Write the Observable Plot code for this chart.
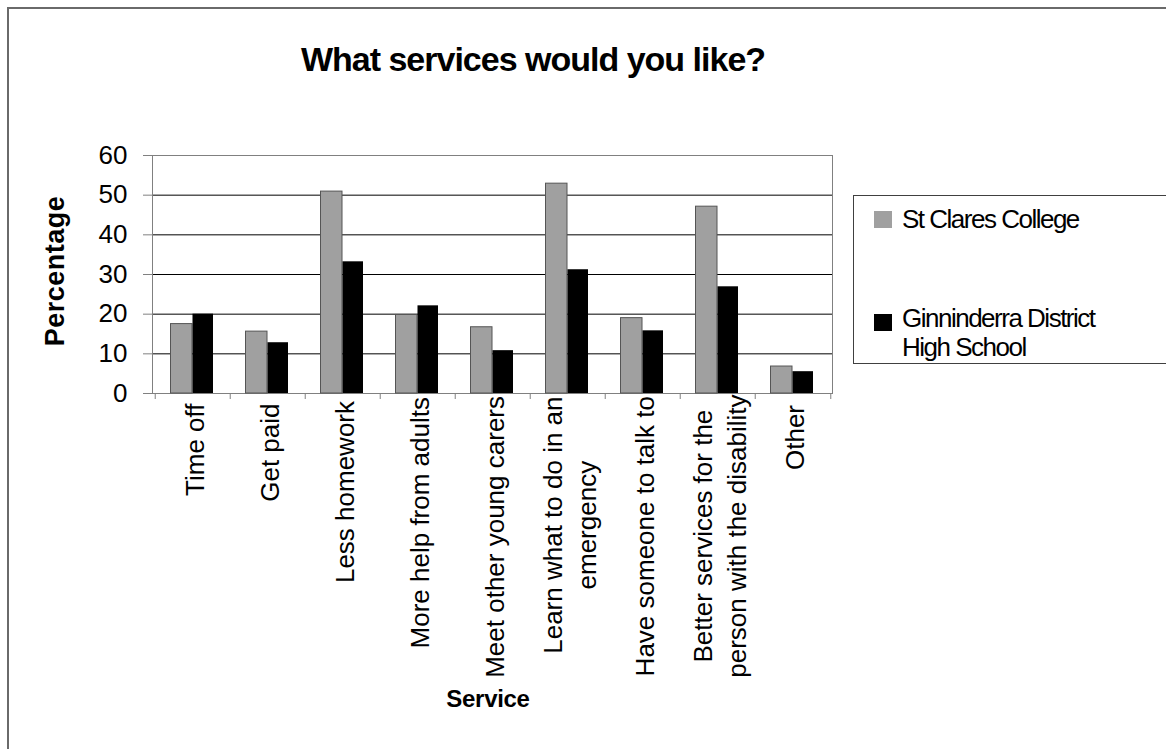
<!DOCTYPE html>
<html>
<head>
<meta charset="utf-8">
<script src="https://cdn.jsdelivr.net/npm/d3@7"></script>
<script src="https://cdn.jsdelivr.net/npm/@observablehq/plot@0.6"></script>
<style>
  body { margin: 0; background: #fff; font-family: "Liberation Sans", Arial, sans-serif; }
  #wrap { position: relative; width: 1166px; height: 749px; overflow: hidden; background: #fff; }
  #border { position: absolute; left: 7px; top: 7px; width: 1300px; height: 900px;
            border-left: 2px solid #6a6a6a; border-top: 2px solid #6a6a6a; }
  #title { position: absolute; left: 0; top: 42px; width: 1066px; text-align: center;
           font-weight: bold; font-size: 34px; line-height: 34px; letter-spacing: -1px; color: #000; }
  #xtitle { position: absolute; left: 388px; top: 687px; width: 200px; text-align: center;
            font-weight: bold; font-size: 24px; line-height: 24px; letter-spacing: -0.3px; }
  #ytitle { position: absolute; left: -95px; top: 256px; width: 300px; height: 30px; line-height: 30px;
            text-align: center; font-weight: bold; font-size: 27px; letter-spacing: 0.5px;
            transform: rotate(-90deg); }
  #legend { position: absolute; left: 853px; top: 195px; width: 340px; height: 169px;
            border: 1px solid #404040; box-sizing: border-box; }
  .lg-sw { position: absolute; width: 18px; height: 17px; }
  .lg-tx { position: absolute; font-size: 26px; line-height: 29px; height: 29px; letter-spacing: -1.5px;
           white-space: nowrap; color: #000; }
</style>
</head>
<body>
<div id="wrap">
  <div id="border"></div>
  <div id="title"></div>
  <div id="ytitle"></div>
  <div id="xtitle"></div>
  <div id="legend"></div>
</div>
<script>
// ---- Data ----
const titleText = "What services would you like?";
const xTitle = "Service";
const yTitle = "Percentage";
const categories = [
  "Time off",
  "Get paid",
  "Less homework",
  "More help from adults",
  "Meet other young carers",
  "Learn what to do in an emergency",
  "Have someone to talk to",
  "Better services for the person with the disability",
  "Other"
];
const categoryLabels = [
  "Time off",
  "Get paid",
  "Less homework",
  "More help from adults",
  "Meet other young carers",
  "Learn what to do in an\nemergency",
  "Have someone to talk to",
  "Better services for the\nperson with the disability",
  "Other"
];
const series = ["St Clares College", "Ginninderra District High School"];
const seriesLegendLabels = ["St Clares College", "Ginninderra District\nHigh School"];
const seriesColors = ["#a0a0a0", "#000000"];
const stClares = [17.5, 15.6, 50.9, 19.8, 16.7, 52.9, 19.0, 47.1, 6.8];
const ginninderra = [20.0, 12.8, 33.2, 22.1, 10.8, 31.2, 15.8, 26.9, 5.5];
const yTicks = [0, 10, 20, 30, 40, 50, 60];

// ---- Texts ----
document.getElementById("title").textContent = titleText;
document.getElementById("xtitle").textContent = xTitle;
document.getElementById("ytitle").textContent = yTitle;

// ---- Legend ----
const legend = document.getElementById("legend");
const legendRows = [{sw: 15, tx: 9}, {sw: 118, tx: 108}];
const legendLineStep = 29;
series.forEach((s, i) => {
  const sw = document.createElement("div");
  sw.className = "lg-sw";
  sw.style.left = "20px";
  sw.style.top = legendRows[i].sw + "px";
  sw.style.background = seriesColors[i];
  legend.appendChild(sw);
  seriesLegendLabels[i].split("\n").forEach((line, j) => {
    const tx = document.createElement("div");
    tx.className = "lg-tx";
    tx.style.left = "48px";
    tx.style.top = (legendRows[i].tx + j * legendLineStep) + "px";
    tx.textContent = line;
    legend.appendChild(tx);
  });
});

// ---- Chart ----
const W = 850, H = 560, mL = 152, mR = 18, mT = 25, mB = 297;
const band = (W - mL - mR) / categories.length;

const labelFont = 26, labelSpacing = -1;
const ctx = document.createElement("canvas").getContext("2d");
ctx.font = `${labelFont}px "Liberation Sans"`;
const labelLen = categoryLabels.map(l =>
  Math.max(...l.split("\n").map(line => ctx.measureText(line).width + labelSpacing * line.length)));

const gData = categories.map((c, i) => ({category: c, value: stClares[i]}));
const bData = categories.map((c, i) => ({category: c, value: ginninderra[i]}));

const chart = Plot.plot({
  width: W, height: H,
  marginLeft: mL, marginRight: mR, marginTop: mT, marginBottom: mB,
  style: {fontFamily: '"Liberation Sans", Arial, sans-serif', color: "#000", background: "transparent", overflow: "visible"},
  x: {domain: categories, padding: 0, axis: null},
  y: {domain: [0, 60], axis: null},
  marks: [
    Plot.gridY(yTicks, {stroke: "#000", strokeOpacity: 1, strokeWidth: 1}),
    Plot.frame({stroke: "#808080"}),
    Plot.barY(gData, {x: "category", y: "value", fill: seriesColors[0], stroke: "#555", strokeWidth: 1,
      insetLeft: 15.5, insetRight: 38}),
    Plot.barY(bData, {x: "category", y: "value", fill: seriesColors[1],
      insetLeft: 37.5, insetRight: 17}),
    Plot.axisY(yTicks, {tickSize: 9, tickPadding: 16, fontSize: 26, stroke: "#808080", label: null,
      tickFormat: d => String(d)}),
    Plot.axisX(categories, {tickSize: 6, fill: "none", stroke: "#808080", dx: -band / 2, label: null}),
    Plot.axisX([categories[categories.length - 1]], {tickSize: 6, fill: "none", stroke: "#808080", dx: band / 2, label: null}),
    ...categories.map((c, i) => Plot.text([c], {
      x: d => d, text: () => categoryLabels[i], frameAnchor: "bottom",
      rotate: -90, textAnchor: "middle", lineAnchor: "middle", lineHeight: 1.29,
      fontSize: labelFont, dy: 14 + labelLen[i] / 2, fill: "#000",
      ariaLabel: "category-label"
    }))
  ]
});
chart.style.position = "absolute";
chart.style.left = "0px";
chart.style.top = "130px";
chart.querySelectorAll('g[aria-label="category-label"]').forEach(g => g.setAttribute("letter-spacing", labelSpacing + "px"));
document.getElementById("wrap").appendChild(chart);
</script>
</body>
</html>
